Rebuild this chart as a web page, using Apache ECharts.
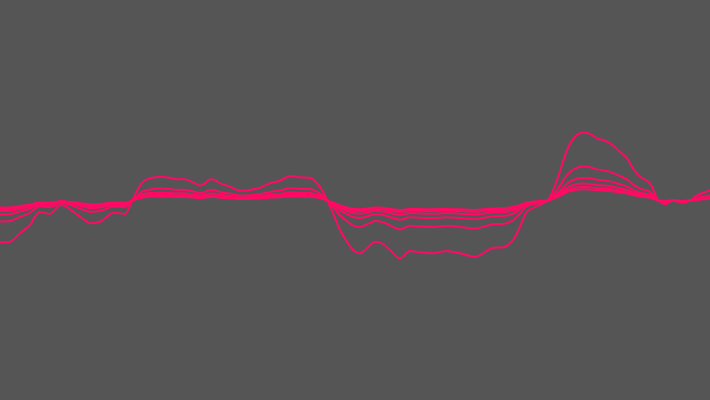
<!DOCTYPE html>
<html>
<head>
<meta charset="utf-8">
<script src="https://cdn.jsdelivr.net/npm/echarts@6/dist/echarts.min.js"></script>
<style>html,body{margin:0;padding:0;background:#555;}#c{width:710px;height:400px;}</style>
</head>
<body>
<div id="c"></div>
<script>
var xs = [0,10,20,30,35,40,45,50,55,60,65,70,80,87,90,100,107,113,120,125,130,133,137,143,150,160,170,177,183,190,195,200,205,210,215,220,230,237,243,250,260,270,280,290,300,310,317,323,327,333,340,347,353,360,367,375,383,390,400,410,420,433,447,460,475,483,493,503,513,520,527,537,548,557,567,575,583,590,597,603,610,620,627,633,640,650,658,665,673,683,690,698,710];
var s1 = [-41.8,-41.2,-32.8,-24.5,-16.2,-11.5,-12.5,-13.5,-9.5,-4.5,-5.5,-8.8,-16.2,-21.2,-22.8,-21.2,-16.2,-12.2,-12.8,-13.5,-5,1.5,9.5,18.8,22.2,23.8,22.8,21.2,21.5,19.5,17.2,14.8,17.2,21.2,20.5,17.2,13.8,10.5,9.8,10.5,12.8,17.2,19.8,24.5,23.2,22.8,17.2,8.8,0.5,-12.5,-29.5,-41.2,-49.5,-52.8,-47.8,-41.2,-43.5,-49.5,-57.8,-50.5,-51.8,-52.8,-50.5,-52.8,-56.2,-52.8,-47.2,-46.8,-39.5,-26.2,-11.2,-5.5,0.5,20.5,50.5,63.8,67.8,66.5,62.2,60.5,57.2,48.8,42.2,32.2,23.8,17.2,0.5,-3.5,0,-2.2,-0.2,5.5,10];
var s2 = [-20.9,-20.6,-16.4,-12.3,-8.1,-5.8,-6.3,-6.8,-4.8,-2.3,-2.8,-4.4,-8.1,-10.6,-11.4,-10.6,-8.1,-6.1,-6.4,-6.8,-2.5,0.8,4.8,9.4,11.1,11.9,11.4,10.6,10.8,9.8,8.6,7.4,8.6,10.6,10.3,8.6,6.9,5.3,4.9,5.3,6.4,8.6,9.9,12.3,11.6,11.4,8.6,4.4,0.3,-6.3,-14.8,-20.6,-24.8,-26.4,-23.9,-20.6,-21.8,-24.8,-28.9,-25.3,-25.9,-26.4,-25.3,-26.4,-28.1,-26.4,-23.6,-23.4,-19.8,-13.1,-5.6,-2.8,0.3,10.3,25.3,31.9,33.9,33.3,31.1,30.3,28.6,24.4,21.1,16.1,11.9,8.6,0.3,-1.8,0,-1.1,-0.1,2.8,5.0];
var s3 = [-13.9,-13.7,-10.9,-8.2,-5.4,-3.8,-4.2,-4.5,-3.2,-1.5,-1.8,-2.9,-5.4,-7.1,-7.6,-7.1,-5.4,-4.1,-4.3,-4.5,-1.7,0.5,3.2,6.3,7.4,7.9,7.6,7.1,7.2,6.5,5.7,4.9,5.7,7.1,6.8,5.7,4.6,3.5,3.3,3.5,4.3,5.7,6.6,8.2,7.7,7.6,5.7,2.9,0.2,-4.2,-9.8,-13.7,-16.5,-17.6,-15.9,-13.7,-14.5,-16.5,-19.3,-16.8,-17.3,-17.6,-16.8,-17.6,-18.7,-17.6,-15.7,-15.6,-13.2,-8.7,-3.7,-1.8,0.2,6.8,16.8,21.3,22.6,22.2,20.7,20.2,19.1,16.3,14.1,10.7,7.9,5.7,0.2,-1.2,0,-0.7,-0.1,1.8,3.3];
var s4 = [-10.5,-10.3,-8.2,-6.1,-4.1,-2.9,-3.1,-3.4,-2.4,-1.1,-1.4,-2.2,-4.1,-5.3,-5.7,-5.3,-4.1,-3.1,-3.2,-3.4,-1.3,0.4,2.4,4.7,5.6,6.0,5.7,5.3,5.4,4.9,4.3,3.7,4.3,5.3,5.1,4.3,3.5,2.6,2.5,2.6,3.2,4.3,5.0,6.1,5.8,5.7,4.3,2.2,0.1,-3.1,-7.4,-10.3,-12.4,-13.2,-12.0,-10.3,-10.9,-12.4,-14.5,-12.6,-13.0,-13.2,-12.6,-13.2,-14.1,-13.2,-11.8,-11.7,-9.9,-6.6,-2.8,-1.4,0.1,5.1,12.6,16.0,17.0,16.6,15.6,15.1,14.3,12.2,10.6,8.1,6.0,4.3,0.1,-0.9,0,-0.6,0,1.4,2.5];
var s5 = [-8.4,-8.2,-6.6,-4.9,-3.2,-2.3,-2.5,-2.7,-1.9,-0.9,-1.1,-1.8,-3.2,-4.2,-4.6,-4.2,-3.2,-2.4,-2.6,-2.7,-1.0,0.3,1.9,3.8,4.4,4.8,4.6,4.2,4.3,3.9,3.4,3.0,3.4,4.2,4.1,3.4,2.8,2.1,2.0,2.1,2.6,3.4,4.0,4.9,4.6,4.6,3.4,1.8,0.1,-2.5,-5.9,-8.2,-9.9,-10.6,-9.6,-8.2,-8.7,-9.9,-11.6,-10.1,-10.4,-10.6,-10.1,-10.6,-11.2,-10.6,-9.4,-9.4,-7.9,-5.2,-2.2,-1.1,0.1,4.1,10.1,12.8,13.6,13.3,12.4,12.1,11.4,9.8,8.4,6.4,4.8,3.4,0.1,-0.7,0,-0.4,0,1.1,2.0];
var s6 = [-7.0,-6.9,-5.5,-4.1,-2.7,-1.9,-2.1,-2.3,-1.6,-0.8,-0.9,-1.5,-2.7,-3.5,-3.8,-3.5,-2.7,-2.0,-2.1,-2.3,-0.8,0.3,1.6,3.1,3.7,4.0,3.8,3.5,3.6,3.3,2.9,2.5,2.9,3.5,3.4,2.9,2.3,1.8,1.6,1.8,2.1,2.9,3.3,4.1,3.9,3.8,2.9,1.5,0.1,-2.1,-4.9,-6.9,-8.3,-8.8,-8.0,-6.9,-7.3,-8.3,-9.6,-8.4,-8.6,-8.8,-8.4,-8.8,-9.4,-8.8,-7.9,-7.8,-6.6,-4.4,-1.9,-0.9,0.1,3.4,8.4,10.6,11.3,11.1,10.4,10.1,9.5,8.1,7.0,5.4,4.0,2.9,0.1,-0.6,0,-0.4,0,0.9,1.7];
var seriesValues = [s1, s2, s3, s4, s5, s6];

function pairs(vals) {
  return xs.map(function (x, i) { return [x, vals[i]]; });
}

var chart = echarts.init(document.getElementById('c'), null, {renderer: 'canvas'});
chart.setOption({
  backgroundColor: '#555555',
  animation: false,
  grid: {left: 0, right: 0, top: 0, bottom: 0},
  xAxis: {type: 'value', min: 0, max: 710, show: false},
  yAxis: {type: 'value', min: -199.5, max: 200.5, show: false},
  series: seriesValues.map(function (vals) {
    return {
      type: 'line',
      data: pairs(vals),
      smooth: 0.3,
      showSymbol: false,
      symbol: 'none',
      lineStyle: {color: '#ff0a64', width: 2}
    };
  })
});
</script>
</body>
</html>
